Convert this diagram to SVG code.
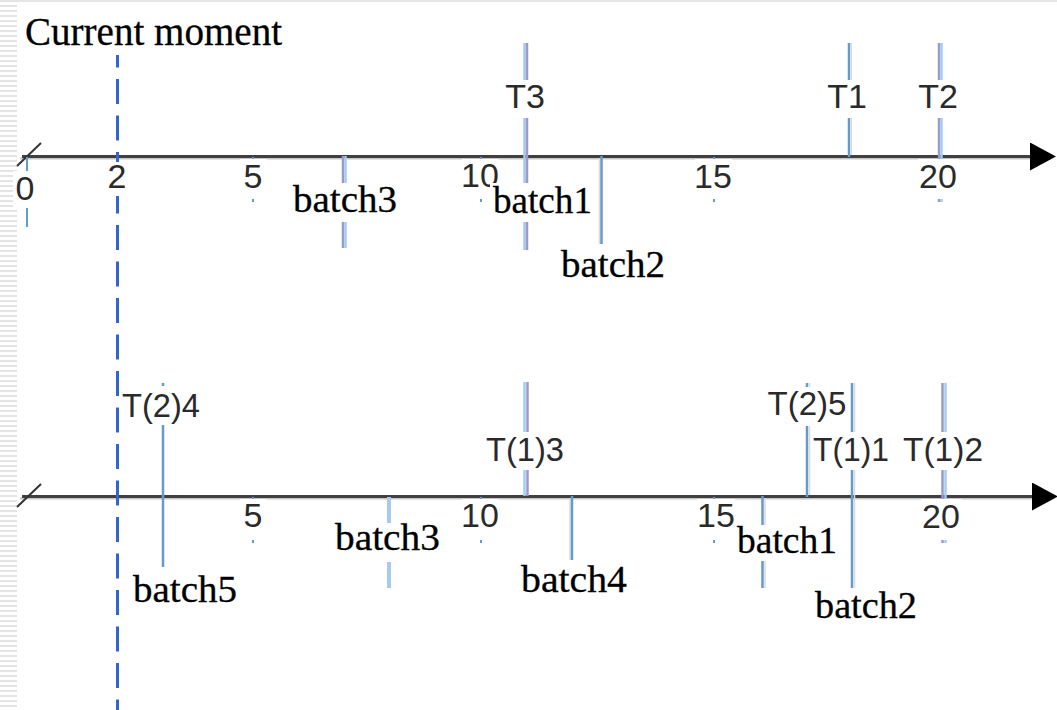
<svg xmlns="http://www.w3.org/2000/svg" width="1057" height="710" viewBox="0 0 1057 710">
  <defs>
    <style>
      .axis { stroke: #404040; stroke-width: 3; fill: none; }
      .axis-sh { stroke: #c6c6c6; stroke-width: 2; fill: none; }
      .slash { stroke: #333; stroke-width: 2; }
      .now { stroke: #3366cc; stroke-width: 3; stroke-dasharray: 25 11.5; stroke-dashoffset: 12.5; }
      .tick { stroke: #6699cc; stroke-width: 2; }
      .mark { stroke: #6699cc; stroke-width: 2.5; }
      .sh { stroke: #dadada; stroke-width: 1.5; }
      .pa { stroke: #9a9acc; stroke-width: 2.5; }
      .pb { stroke: #a6caf0; stroke-width: 2.5; }
      .bg { fill: #ffffff; }
      .num { font-family: "Liberation Sans", Arial, sans-serif; font-size: 34px; fill: #2a2a2a; text-anchor: middle; }
      .ser { font-family: "Liberation Serif", "Times New Roman", serif; font-size: 38px; fill: #000; stroke: #000; stroke-width: 0.3; }
    </style>
    <marker id="arrow" markerUnits="userSpaceOnUse" markerWidth="26" markerHeight="28" viewBox="0 0 26 28" refX="1" refY="14" orient="auto">
      <path d="M0,0 L26,14 L0,28 Z" fill="#000"/>
    </marker>
    <pattern id="stripes" width="17" height="5" patternUnits="userSpaceOnUse">
      <rect x="0" y="0" width="17" height="2" fill="#e4e4e4"/>
    </pattern>
  </defs>

  <rect width="1057" height="710" fill="#ffffff"/>
  <!-- page edge -->
  <rect x="0" y="0" width="17" height="710" fill="url(#stripes)"/>
  <rect x="17" y="0" width="1040" height="2" fill="#e6e6e6"/>

  <!-- time axes -->
  <g id="axis-top">
    <line class="axis-sh" x1="20" y1="158.5" x2="1030" y2="158.5"/>
    <line class="axis" x1="22" y1="156.5" x2="1031" y2="156.5" marker-end="url(#arrow)"/>
    <line class="slash" x1="17" y1="166" x2="41" y2="143"/>
  </g>
  <g id="axis-bottom">
    <line class="axis-sh" x1="20" y1="498.5" x2="1032" y2="498.5"/>
    <line class="axis" x1="22" y1="496.5" x2="1033" y2="496.5" marker-end="url(#arrow)"/>
    <line class="slash" x1="17" y1="507" x2="41" y2="484"/>
  </g>

  <!-- vertical marks: ticks, task and batch positions -->
  <g id="connectors">
    <line class="now" x1="117.5" y1="55" x2="117.5" y2="710"/>

    <!-- upper timeline -->
    <line class="tick" x1="27" y1="157" x2="27" y2="227"/>
    <line class="tick" x1="253" y1="157" x2="253" y2="202"/>
    <line class="tick" x1="481" y1="157" x2="481" y2="202"/>
    <line class="tick" x1="714" y1="157" x2="714" y2="202"/>
    <line class="pa" x1="343" y1="156" x2="343" y2="248"/>
    <line class="pb" x1="345.5" y1="156" x2="345.5" y2="248"/>
    <line class="pb" x1="524.5" y1="43" x2="524.5" y2="250"/>
    <line class="pa" x1="527" y1="43" x2="527" y2="250"/>
    <line class="sh" x1="599.5" y1="158" x2="599.5" y2="244"/>
    <line class="mark" x1="601.5" y1="156" x2="601.5" y2="244"/>
    <line class="mark" x1="849" y1="43" x2="849" y2="157"/>
    <line class="sh" x1="851.3" y1="43" x2="851.3" y2="155"/>
    <line class="pa" x1="939" y1="43" x2="939" y2="202"/>
    <line class="pb" x1="941.5" y1="43" x2="941.5" y2="202"/>

    <!-- lower timeline -->
    <line class="tick" x1="253" y1="497" x2="253" y2="543"/>
    <line class="tick" x1="481" y1="497" x2="481" y2="543"/>
    <line class="tick" x1="714" y1="497" x2="714" y2="543"/>
    <line class="mark" x1="163" y1="383" x2="163" y2="567"/>
    <line class="pb" x1="389" y1="497" x2="389" y2="588" style="stroke-width:4"/>
    <line class="pb" x1="524.5" y1="382" x2="524.5" y2="496"/>
    <line class="pa" x1="527.5" y1="382" x2="527.5" y2="496"/>
    <line class="sh" x1="570" y1="498" x2="570" y2="560"/>
    <line class="mark" x1="572" y1="496" x2="572" y2="560"/>
    <line class="mark" x1="762.5" y1="496" x2="762.5" y2="588"/>
    <line class="sh" x1="765" y1="498" x2="765" y2="588"/>
    <line class="mark" x1="807" y1="383" x2="807" y2="497"/>
    <line class="sh" x1="809.5" y1="383" x2="809.5" y2="495"/>
    <line class="mark" x1="852" y1="383" x2="852" y2="588"/>
    <line class="sh" x1="854.5" y1="383" x2="854.5" y2="588"/>
    <line class="pa" x1="942.5" y1="383" x2="942.5" y2="543"/>
    <line class="pb" x1="945.5" y1="383" x2="945.5" y2="543"/>
  </g>

  <!-- caption of the dashed line -->
  <g id="label-current">
    <text class="ser" x="25" y="45" textLength="257" lengthAdjust="spacingAndGlyphs" style="font-size:40px">Current moment</text>
  </g>

  <!-- upper timeline labels -->
  <g id="top-0"><rect class="bg" x="13" y="171" width="27" height="37"/><text class="num" x="25" y="200">0</text></g>
  <g id="top-2"><rect class="bg" x="104" y="162" width="27" height="34"/><text class="num" x="117" y="188">2</text></g>
  <g id="top-5"><rect class="bg" x="240" y="159" width="27" height="40"/><text class="num" x="253" y="188">5</text></g>
  <g id="top-10"><rect class="bg" x="462" y="159" width="37" height="40"/><text class="num" x="480" y="187">10</text></g>
  <g id="top-15"><rect class="bg" x="695" y="159" width="37" height="40"/><text class="num" x="713" y="188">15</text></g>
  <g id="top-20"><rect class="bg" x="918" y="159" width="41" height="40"/><text class="num" x="938" y="188">20</text></g>
  <g id="top-T3"><rect class="bg" x="500" y="80" width="50" height="38"/><text class="num" x="525" y="108">T3</text></g>
  <g id="top-T1"><rect class="bg" x="826" y="80" width="42" height="38"/><text class="num" x="847" y="108">T1</text></g>
  <g id="top-T2"><rect class="bg" x="916" y="80" width="46" height="38"/><text class="num" x="938" y="108">T2</text></g>
  <g id="top-batch3"><rect class="bg" x="290" y="183" width="110" height="39"/><text class="ser" x="293" y="212" textLength="104" lengthAdjust="spacingAndGlyphs">batch3</text></g>
  <g id="top-batch1"><rect class="bg" x="490" y="183" width="106" height="39"/><text class="ser" x="493" y="213" textLength="99" lengthAdjust="spacingAndGlyphs">batch1</text></g>
  <g id="top-batch2"><text class="ser" x="561" y="277" textLength="104" lengthAdjust="spacingAndGlyphs">batch2</text></g>

  <!-- lower timeline labels -->
  <g id="bot-5"><rect class="bg" x="240" y="499" width="27" height="41"/><text class="num" x="253" y="527">5</text></g>
  <g id="bot-10"><rect class="bg" x="462" y="499" width="37" height="41"/><text class="num" x="480" y="527">10</text></g>
  <g id="bot-15"><rect class="bg" x="697" y="499" width="38" height="41"/><text class="num" x="716" y="527">15</text></g>
  <g id="bot-20"><rect class="bg" x="921" y="499" width="41" height="41"/><text class="num" x="941" y="528">20</text></g>
  <g id="bot-T24"><rect class="bg" x="120" y="386" width="80" height="39"/><text class="num" x="161" y="417" textLength="78" lengthAdjust="spacingAndGlyphs">T(2)4</text></g>
  <g id="bot-T13"><rect class="bg" x="484" y="432" width="82" height="38"/><text class="num" x="525" y="461" textLength="78" lengthAdjust="spacingAndGlyphs">T(1)3</text></g>
  <g id="bot-T25"><rect class="bg" x="765" y="387" width="83" height="39"/><text class="num" x="807" y="415" textLength="79" lengthAdjust="spacingAndGlyphs">T(2)5</text></g>
  <g id="bot-T11"><rect class="bg" x="812" y="432" width="74" height="38"/><text class="num" x="851" y="461" textLength="76" lengthAdjust="spacingAndGlyphs">T(1)1</text></g>
  <g id="bot-T12"><rect class="bg" x="900" y="432" width="85" height="38"/><text class="num" x="943" y="461" textLength="80" lengthAdjust="spacingAndGlyphs">T(1)2</text></g>
  <g id="bot-batch5"><text class="ser" x="133" y="602" textLength="104" lengthAdjust="spacingAndGlyphs">batch5</text></g>
  <g id="bot-batch3"><rect class="bg" x="333" y="523" width="110" height="39"/><text class="ser" x="335" y="550" textLength="105" lengthAdjust="spacingAndGlyphs">batch3</text></g>
  <g id="bot-batch4"><text class="ser" x="521" y="592" textLength="106" lengthAdjust="spacingAndGlyphs">batch4</text></g>
  <g id="bot-batch1"><rect class="bg" x="735" y="525" width="105" height="36"/><text class="ser" x="737" y="553" textLength="100" lengthAdjust="spacingAndGlyphs">batch1</text></g>
  <g id="bot-batch2"><text class="ser" x="815" y="618" textLength="102" lengthAdjust="spacingAndGlyphs">batch2</text></g>
</svg>
